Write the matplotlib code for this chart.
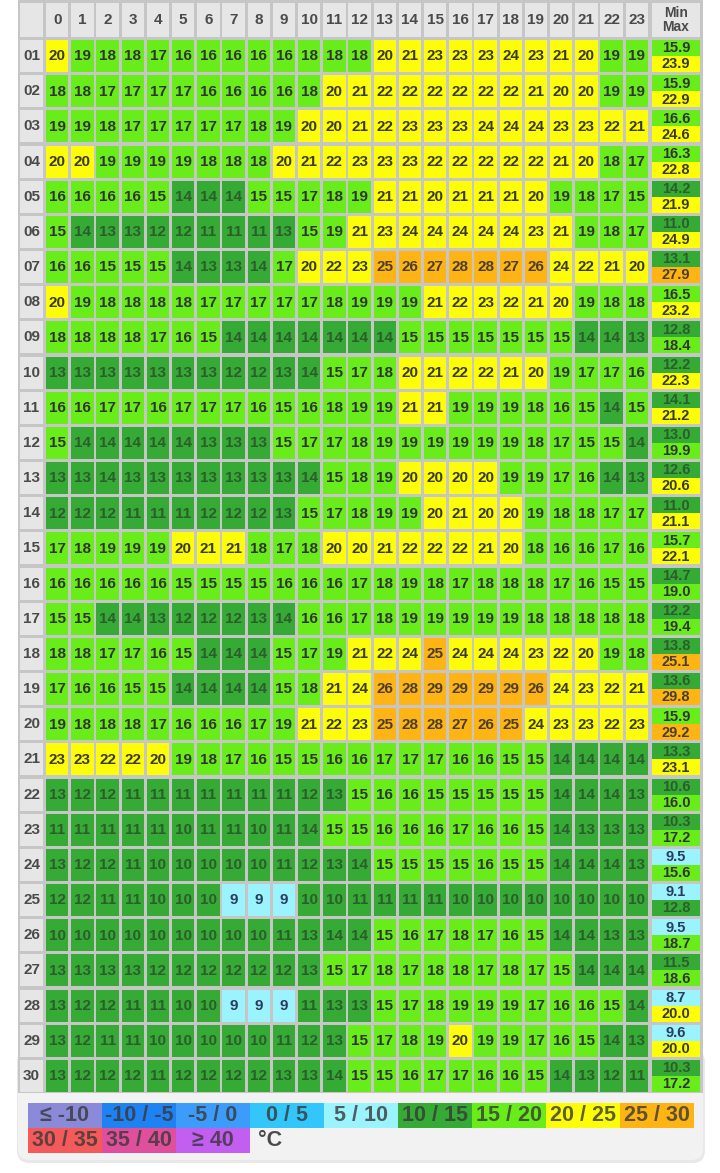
import matplotlib
matplotlib.use("Agg")
import matplotlib.pyplot as plt
from matplotlib.patches import Rectangle, FancyBboxPatch
from matplotlib import font_manager
from bisect import bisect_right

# ---------------- data ----------------
hours = list(range(24))
days = [f"{d:02d}" for d in range(1, 31)]

t01 = [20, 19, 18, 18, 17, 16, 16, 16, 16, 16, 18, 18, 18, 20, 21, 23, 23, 23, 24, 23, 21, 20, 19, 19]
t02 = [18, 18, 17, 17, 17, 17, 16, 16, 16, 16, 18, 20, 21, 22, 22, 22, 22, 22, 22, 21, 20, 20, 19, 19]
t03 = [19, 19, 18, 17, 17, 17, 17, 17, 18, 19, 20, 20, 21, 22, 23, 23, 23, 24, 24, 24, 23, 23, 22, 21]
t04 = [20, 20, 19, 19, 19, 19, 18, 18, 18, 20, 21, 22, 23, 23, 23, 22, 22, 22, 22, 22, 21, 20, 18, 17]
t05 = [16, 16, 16, 16, 15, 14, 14, 14, 15, 15, 17, 18, 19, 21, 21, 20, 21, 21, 21, 20, 19, 18, 17, 15]
t06 = [15, 14, 13, 13, 12, 12, 11, 11, 11, 13, 15, 19, 21, 23, 24, 24, 24, 24, 24, 23, 21, 19, 18, 17]
t07 = [16, 16, 15, 15, 15, 14, 13, 13, 14, 17, 20, 22, 23, 25, 26, 27, 28, 28, 27, 26, 24, 22, 21, 20]
t08 = [20, 19, 18, 18, 18, 18, 17, 17, 17, 17, 17, 18, 19, 19, 19, 21, 22, 23, 22, 21, 20, 19, 18, 18]
t09 = [18, 18, 18, 18, 17, 16, 15, 14, 14, 14, 14, 14, 14, 14, 15, 15, 15, 15, 15, 15, 15, 14, 14, 13]
t10 = [13, 13, 13, 13, 13, 13, 13, 12, 12, 13, 14, 15, 17, 18, 20, 21, 22, 22, 21, 20, 19, 17, 17, 16]
t11 = [16, 16, 17, 17, 16, 17, 17, 17, 16, 15, 16, 18, 19, 19, 21, 21, 19, 19, 19, 18, 16, 15, 14, 15]
t12 = [15, 14, 14, 14, 14, 14, 13, 13, 13, 15, 17, 17, 18, 19, 19, 19, 19, 19, 19, 18, 17, 15, 15, 14]
t13 = [13, 13, 14, 13, 13, 13, 13, 13, 13, 13, 14, 15, 18, 19, 20, 20, 20, 20, 19, 19, 17, 16, 14, 13]
t14 = [12, 12, 12, 11, 11, 11, 12, 12, 12, 13, 15, 17, 18, 19, 19, 20, 21, 20, 20, 19, 18, 18, 17, 17]
t15 = [17, 18, 19, 19, 19, 20, 21, 21, 18, 17, 18, 20, 20, 21, 22, 22, 22, 21, 20, 18, 16, 16, 17, 16]
t16 = [16, 16, 16, 16, 16, 15, 15, 15, 15, 16, 16, 16, 17, 18, 19, 18, 17, 18, 18, 18, 17, 16, 15, 15]
t17 = [15, 15, 14, 14, 13, 12, 12, 12, 13, 14, 16, 16, 17, 18, 19, 19, 19, 19, 19, 18, 18, 18, 18, 18]
t18 = [18, 18, 17, 17, 16, 15, 14, 14, 14, 15, 17, 19, 21, 22, 24, 25, 24, 24, 24, 23, 22, 20, 19, 18]
t19 = [17, 16, 16, 15, 15, 14, 14, 14, 14, 15, 18, 21, 24, 26, 28, 29, 29, 29, 29, 26, 24, 23, 22, 21]
t20 = [19, 18, 18, 18, 17, 16, 16, 16, 17, 19, 21, 22, 23, 25, 28, 28, 27, 26, 25, 24, 23, 23, 22, 23]
t21 = [23, 23, 22, 22, 20, 19, 18, 17, 16, 15, 15, 16, 16, 17, 17, 17, 16, 16, 15, 15, 14, 14, 14, 14]
t22 = [13, 12, 12, 11, 11, 11, 11, 11, 11, 11, 12, 13, 15, 16, 16, 15, 15, 15, 15, 15, 14, 14, 14, 13]
t23 = [11, 11, 11, 11, 11, 10, 11, 11, 10, 11, 14, 15, 15, 16, 16, 16, 17, 16, 16, 15, 14, 13, 13, 13]
t24 = [13, 12, 12, 11, 10, 10, 10, 10, 10, 11, 12, 13, 14, 15, 15, 15, 15, 16, 15, 15, 14, 14, 14, 13]
t25 = [12, 12, 11, 11, 10, 10, 10, 9, 9, 9, 10, 10, 11, 11, 11, 11, 10, 10, 10, 10, 10, 10, 10, 10]
t26 = [10, 10, 10, 10, 10, 10, 10, 10, 10, 11, 13, 14, 14, 15, 16, 17, 18, 17, 16, 15, 14, 14, 13, 13]
t27 = [13, 13, 13, 13, 12, 12, 12, 12, 12, 12, 13, 15, 17, 18, 17, 18, 18, 17, 18, 17, 15, 14, 14, 14]
t28 = [13, 12, 12, 11, 11, 10, 10, 9, 9, 9, 11, 13, 13, 15, 17, 18, 19, 19, 19, 17, 16, 16, 15, 14]
t29 = [13, 12, 11, 11, 10, 10, 10, 10, 10, 11, 12, 13, 15, 17, 18, 19, 20, 19, 19, 17, 16, 15, 14, 13]
t30 = [13, 12, 12, 12, 11, 12, 12, 12, 12, 13, 13, 14, 15, 15, 16, 17, 17, 16, 16, 15, 14, 13, 12, 11]

temps = [t01, t02, t03, t04, t05, t06, t07, t08, t09, t10,
         t11, t12, t13, t14, t15, t16, t17, t18, t19, t20,
         t21, t22, t23, t24, t25, t26, t27, t28, t29, t30]

day_min = [15.9, 15.9, 16.6, 16.3, 14.2, 11.0, 13.1, 16.5, 12.8, 12.2,
           14.1, 13.0, 12.6, 11.0, 15.7, 14.7, 12.2, 13.8, 13.6, 15.9,
           13.3, 10.6, 10.3, 9.5, 9.1, 9.5, 11.5, 8.7, 9.6, 10.3]
day_max = [23.9, 22.9, 24.6, 22.8, 21.9, 24.9, 27.9, 23.2, 18.4, 22.3,
           21.2, 19.9, 20.6, 21.1, 22.1, 19.0, 19.4, 25.1, 29.8, 29.2,
           23.1, 16.0, 17.2, 15.6, 12.8, 18.7, 18.6, 20.0, 20.0, 17.2]

bin_edges = [-10, -5, 0, 5, 10, 15, 20, 25, 30, 35, 40]
legend_labels = ["≤ -10", "-10 / -5", "-5 / 0", "0 / 5", "5 / 10", "10 / 15",
                 "15 / 20", "20 / 25", "25 / 30", "30 / 35", "35 / 40", "≥ 40"]
bin_colors = ["#8a8ad8", "#1f82f2", "#3d9cfa", "#33c6fb", "#9af3fd", "#35aa35",
              "#68ed1a", "#fdfd0a", "#fdb414", "#f55a5a", "#e04f9c", "#c25ef0"]
bin_text = ["#3c3c60", "#2a3c60", "#2a3c60", "#2a3c60", "#2a3c5c", "#2d5c2d",
            "#333333", "#3a3a22", "#4a3e2a", "#4a2a2a", "#4a2a40", "#4a2a5a"]
unit_label = "°C"


def bin_index(v):
    return bisect_right(bin_edges, v)


# ---------------- fonts ----------------
names = {f.name for f in font_manager.fontManager.ttflist}
base_font = ["Liberation Sans", "DejaVu Sans"]
narrow_font = (["Liberation Sans Narrow", "Liberation Sans", "DejaVu Sans"]
               if "Liberation Sans Narrow" in names else base_font)
plt.rcParams["font.family"] = base_font

# ---------------- layout (pixels -> data units) ----------------
W, H = 720, 1173
PX, PY = 25.2, 35.17      # pixel pitch of one hour column / one day row
X0, Y0 = 46, 40           # pixel position of hour 0 / day 01


def ux(p):
    return (p - X0) / PX


def uy(p):
    return (p - Y0) / PY


fig = plt.figure(figsize=(W / 100, H / 100), dpi=100)
fig.patch.set_facecolor("white")
ax = fig.add_axes([0, 0, 1, 1])
ax.set_xlim(ux(0), ux(W))
ax.set_ylim(uy(H), uy(0))
ax.axis("off")

cw = 22.4 / PX
ch = 32.0 / PY
grid_col = "#c6c6c6"
head_col = "#e6e6e6"
head_txt = "#4a4a4a"
fs = 11

# bottom panel (rounded) behind legend
shadow = FancyBboxPatch((ux(17), uy(1050)), ux(705) - ux(17), uy(1163) - uy(1050),
                        boxstyle="round,pad=0,rounding_size=0.5",
                        mutation_aspect=PX / PY, fc="#e8e8e8", ec="none", zorder=0)
ax.add_patch(shadow)
panel = FancyBboxPatch((ux(18), uy(1050)), ux(703) - ux(18), uy(1160) - uy(1050),
                       boxstyle="round,pad=0,rounding_size=0.45",
                       mutation_aspect=PX / PY, fc="#f2f2f2", ec="none", zorder=0.5)
ax.add_patch(panel)

# grid background
ax.add_patch(Rectangle((ux(18), uy(0)), ux(703) - ux(18), uy(1093) - uy(0),
                       fc=grid_col, ec="none", zorder=1))

# header row
hy = uy(3)
hh = uy(37) - uy(3)
ax.add_patch(Rectangle((ux(20), hy), ux(43) - ux(20), hh, fc=head_col, ec="none", zorder=2))
for h in hours:
    ax.add_patch(Rectangle((h, hy), cw, hh, fc=head_col, ec="none", zorder=2))
    ax.text(h + cw / 2, hy + hh / 2, str(h), ha="center", va="center",
            fontsize=fs, fontweight="bold", color=head_txt, zorder=3)
mx0 = ux(652)
mw = ux(700) - ux(652)
ax.add_patch(Rectangle((mx0, hy), mw, hh, fc=head_col, ec="none", zorder=2))
ax.text(mx0 + mw / 2, hy + hh / 2, "Min\nMax", ha="center", va="center",
        fontsize=fs - 1, fontweight="bold", color=head_txt, linespacing=0.95, zorder=3)

# rows
for d, (lab, row) in enumerate(zip(days, temps)):
    ax.add_patch(Rectangle((ux(20), d), ux(43) - ux(20), ch, fc=head_col, ec="none", zorder=2))
    ax.text((ux(20) + ux(43)) / 2, d + ch / 2, lab, ha="center", va="center",
            fontsize=fs, fontweight="bold", color=head_txt, zorder=3)
    for h, v in zip(hours, row):
        b = bin_index(v)
        ax.add_patch(Rectangle((h, d), cw, ch, fc=bin_colors[b], ec="none", zorder=2))
        ax.text(h + cw / 2, d + ch / 2 + 0.01, str(v), ha="center", va="center",
                fontsize=fs, fontweight="bold", color=bin_text[b], zorder=3)
    for k, val in enumerate((day_min[d], day_max[d])):
        b = bin_index(val)
        yy = d + k * ch / 2
        ax.add_patch(Rectangle((mx0, yy), mw, ch / 2, fc=bin_colors[b], ec="none", zorder=2))
        ax.text(mx0 + mw / 2, yy + ch / 4 + 0.01, f"{val:.1f}", ha="center", va="center",
                fontsize=fs - 0.5, fontweight="bold", color=bin_text[b], zorder=3)

# legend
lw = 74 / PX
lx0 = ux(28)
lrow_y = [uy(1103), uy(1128)]
lh = 24.5 / PY
for i, (lab, col) in enumerate(zip(legend_labels, bin_colors)):
    r = 0 if i < 9 else 1
    c = i if i < 9 else i - 9
    x = lx0 + c * lw
    y = lrow_y[r]
    ax.add_patch(Rectangle((x, y), lw, lh, fc=col, ec="none", zorder=2))
    ax.text(x + lw / 2, y + lh / 2 + 0.01, lab, ha="center", va="center",
            fontsize=15.5, fontweight="bold", color="#383838", alpha=0.8,
            family=narrow_font, zorder=3)
ax.text(lx0 + 3 * lw + 0.3, lrow_y[1] + lh / 2 + 0.01, unit_label, ha="left", va="center",
        fontsize=15.5, fontweight="bold", color="#4a4a4a", family=narrow_font, zorder=3)

fig.savefig("out.png", dpi=100, facecolor="white")
